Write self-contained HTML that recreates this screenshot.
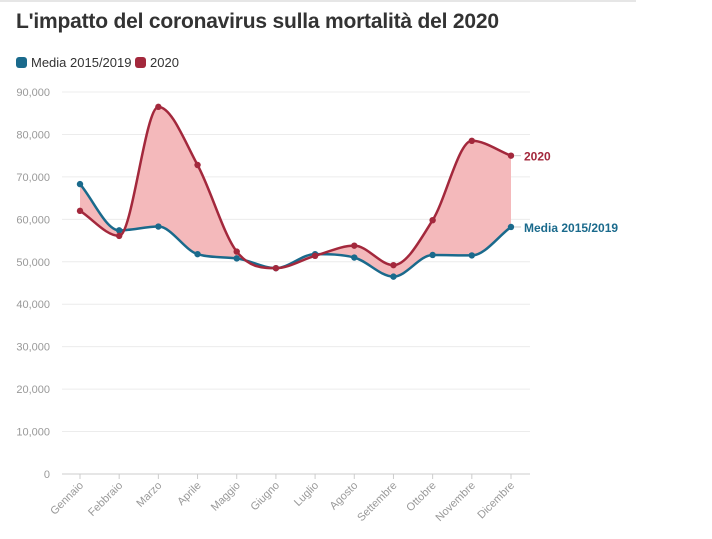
<!DOCTYPE html>
<html><head><meta charset="utf-8">
<style>
body{margin:0;background:#fff;width:712px;height:539px;overflow:hidden;font-family:"Liberation Sans",sans-serif}
#topline{position:absolute;left:0;top:0;width:636px;height:2px;background:#e6e6e6}
h1{position:absolute;left:16px;top:10px;margin:0;font-size:21px;font-weight:bold;color:#333;letter-spacing:-0.2px}
.leg{position:absolute;top:55px;font-size:13px;color:#333;display:flex;align-items:center}
.sw{width:11px;height:11px;border-radius:3px;margin-right:4px;display:inline-block}
svg{position:absolute;left:0;top:0}
</style></head><body>
<div id="topline"></div>
<h1>L'impatto del coronavirus sulla mortalità del 2020</h1>
<div class="leg" style="left:16px"><span class="sw" style="background:#1a6a8c"></span>Media 2015/2019</div>
<div class="leg" style="left:135px"><span class="sw" style="background:#a3283c"></span>2020</div>
<svg id="chart" width="712" height="539"></svg>
<script>
const categories=["Gennaio","Febbraio","Marzo","Aprile","Maggio","Giugno","Luglio","Agosto","Settembre","Ottobre","Novembre","Dicembre"];
const media=[68300,57400,58300,51800,50800,48500,51800,51000,46500,51600,51500,58200];
const y2020=[62000,56100,86500,72800,52400,48500,51400,53800,49200,59800,78500,75000];
const yTicks=[0,10000,20000,30000,40000,50000,60000,70000,80000,90000];
const svg=document.getElementById('chart');
const NS='http://www.w3.org/2000/svg';
const x=i=>80+i*(511-80)/11;
const y=v=>474-v/90000*(474-92);
function mk(t,a,p){const e=document.createElementNS(NS,t);for(const k in a)e.setAttribute(k,a[k]);(p||svg).appendChild(e);return e;}
function pts(arr){return arr.map((v,i)=>[x(i),y(v)]);}
function mono(p,move){
  const n=p.length,d=[],m=[];
  for(let i=0;i<n-1;i++)d.push((p[i+1][1]-p[i][1])/(p[i+1][0]-p[i][0]));
  m[0]=d[0];m[n-1]=d[n-2];
  for(let i=1;i<n-1;i++){m[i]=d[i-1]*d[i]<=0?0:(d[i-1]+d[i])/2;}
  for(let i=0;i<n-1;i++){if(d[i]===0){m[i]=0;m[i+1]=0;continue;}const a=m[i]/d[i],b=m[i+1]/d[i],s=a*a+b*b;if(s>9){const t=3/Math.sqrt(s);m[i]=t*a*d[i];m[i+1]=t*b*d[i];}}
  let s=(move?'M':'L')+p[0][0]+','+p[0][1];
  for(let i=0;i<n-1;i++){const h=(p[i+1][0]-p[i][0])/3;
    s+=` C${p[i][0]+h},${p[i][1]+m[i]*h} ${p[i+1][0]-h},${p[i+1][1]-m[i+1]*h} ${p[i+1][0]},${p[i+1][1]}`;}
  return s;
}
yTicks.forEach(t=>{
  const g=mk('line',{x1:62,x2:530,y1:y(t),y2:y(t),stroke:t===0?'#ccc':'#ececec','stroke-width':1});
  
  
  const l=mk('text',{x:50,y:y(t)+4,'text-anchor':'end','font-size':11,fill:'#999'});
  l.textContent=t.toLocaleString('en-US');
  
  
});
categories.forEach((c,i)=>{
  const tk=mk('line',{x1:x(i),x2:x(i),y1:474,y2:479,stroke:'#ccc'});
  
  
  const l=mk('text',{x:x(i)+4,y:486,'text-anchor':'end','font-size':11,fill:'#999',transform:`rotate(-45 ${x(i)+4} 486)`});
  l.textContent=c;
  
  
});
const pA=pts(y2020),pM=pts(media);
const area=mk('path',{d:mono(pA,true)+' '+mono(pM.slice().reverse(),false).replace(/^L/,'L')+'Z',fill:'#f4b9bb'});


[[pM,'#1a6a8c','media'],[pA,'#a3283c','2020']].forEach(([p,c,n])=>{
  const l=mk('path',{d:mono(p,true),fill:'none',stroke:c,'stroke-width':2.5});
  
  
  p.forEach(q=>{const d=mk('circle',{cx:q[0],cy:q[1],r:3.2,fill:c});
    
    });
});
const la=mk('text',{x:524,y:y(y2020[11])+5,'font-size':12,'font-weight':'bold',fill:'#a3283c'});la.textContent='2020';


const lm=mk('text',{x:524,y:y(media[11])+5,'font-size':12,'font-weight':'bold',fill:'#1a6a8c'});lm.textContent='Media 2015/2019';


mk('line',{x1:514,x2:521,y1:y(y2020[11]),y2:y(y2020[11]),stroke:'#ccc'});
mk('line',{x1:514,x2:521,y1:y(media[11]),y2:y(media[11]),stroke:'#ccc'});
</script>
</body></html>
